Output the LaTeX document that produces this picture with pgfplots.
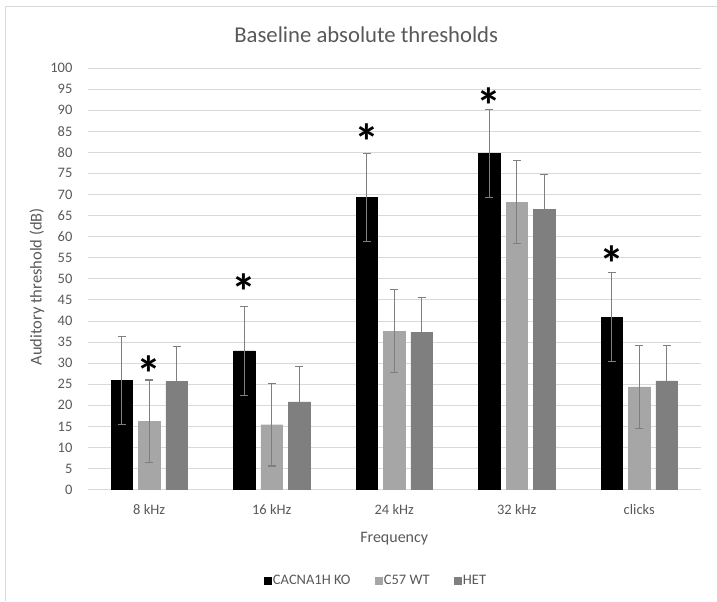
\documentclass[border=0pt]{standalone}
\usepackage{pgfplots}
\pgfplotsset{compat=1.18}
\usepackage{pgfplotstable}
\usepackage{fontspec}
\setmainfont{Carlito}
\definecolor{txt}{HTML}{595959}
\definecolor{ko}{HTML}{000000}
\definecolor{wt}{HTML}{A6A6A6}
\definecolor{het}{HTML}{7F7F7F}
\definecolor{grd}{HTML}{D9D9D9}

% x positions: category index -0.224 (KO), 0 (WT), +0.224 (HET)
\pgfplotstableread{
x y e
-0.224 25.9 10.4
0.776 32.9 10.5
1.776 69.3 10.4
2.776 79.7 10.4
3.776 40.9 10.5
}\ko
\pgfplotstableread{
x y e
0 16.2 9.8
1 15.4 9.8
2 37.6 9.8
3 68.2 9.8
4 24.4 9.8
}\wt
\pgfplotstableread{
x y e
0.224 25.6 8.3
1.224 20.8 8.3
2.224 37.3 8.3
3.224 66.5 8.3
4.224 25.8 8.3
}\het

\begin{document}
\begin{tikzpicture}
\path (-88pt,-111pt) rectangle (629pt,490pt);
\draw[grd, line width=1pt] (-82pt,-111pt) -- (-82pt,483pt) -- (629pt,483pt);
\begin{axis}[
  scale only axis, width=613pt, height=422pt,
  xmin=-0.5, xmax=4.5, ymin=0, ymax=100,
  ytick={0,5,...,100},
  xtick={0,1,2,3,4},
  xticklabels={8 kHz,16 kHz,24 kHz,32 kHz,clicks},
  /pgf/number format/assume math mode=true,
  ymajorgrids, grid style={grd, line width=0.8pt},
  axis x line*=bottom, axis y line*=left,
  x axis line style={grd, line width=0.8pt, -},
  y axis line style={draw=none},
  major tick length=0pt,
  tick label style={font=\fontsize{14.5}{16}\selectfont, text=txt},
  yticklabel style={xshift=-12pt},
  xticklabel style={yshift=-11pt},
  xlabel={Frequency},
  ylabel={Auditory threshold (dB)},
  xlabel style={font=\fontsize{16}{18}\selectfont, text=txt, yshift=-11pt},
  every axis y label/.style={at={(axis description cs:0,0.5)}, anchor=center,
    xshift=-51pt, yshift=-8pt, rotate=90,
    font=\fontsize{16.5}{18}\selectfont, text=txt},
  title={Baseline absolute thresholds},
  title style={font=\fontsize{22.7}{24}\selectfont, text=txt, yshift=16pt, xshift=-28pt},
  legend style={at={(0.47,-0.2156)}, anchor=center, draw=none, legend columns=3,
    font=\fontsize{14.5}{16}\selectfont, text=txt,
    /tikz/every even column/.append style={column sep=22pt}},
  legend image code/.code={\fill[#1] (0pt,-3.5pt) rectangle (7pt,3.5pt);},
  bar width=21.5pt,
]
\addplot[ybar, bar shift=0pt, fill=ko, draw=ko,
  error bars/.cd, y dir=both, y explicit,
  error bar style={het, line width=1.1pt},
  error mark options={rotate=90, mark size=4pt, het, line width=1.1pt}]
  table[x=x, y=y, y error=e] {\ko};
\addlegendentry{CACNA1H KO}
\addplot[ybar, bar shift=0pt, fill=wt, draw=wt,
  error bars/.cd, y dir=both, y explicit,
  error bar style={het, line width=1.1pt},
  error mark options={rotate=90, mark size=4pt, het, line width=1.1pt}]
  table[x=x, y=y, y error=e] {\wt};
\addlegendentry{C57 WT}
\addplot[ybar, bar shift=0pt, fill=het, draw=het,
  error bars/.cd, y dir=both, y explicit,
  error bar style={het, line width=1.1pt},
  error mark options={rotate=90, mark size=4pt, het, line width=1.1pt}]
  table[x=x, y=y, y error=e] {\het};
\addlegendentry{HET}
\addplot[only marks, mark=none, forget plot,
  nodes near coords={\fontsize{50}{50}\selectfont\bfseries *},
  nodes near coords align={anchor=north},
  every node near coord/.append style={inner sep=0pt, text=black}]
  coordinates {(0,31.8) (0.776,51.2) (1.776,86.9) (2.776,95.4) (3.776,57.9)};
\end{axis}
\end{tikzpicture}
\end{document}
